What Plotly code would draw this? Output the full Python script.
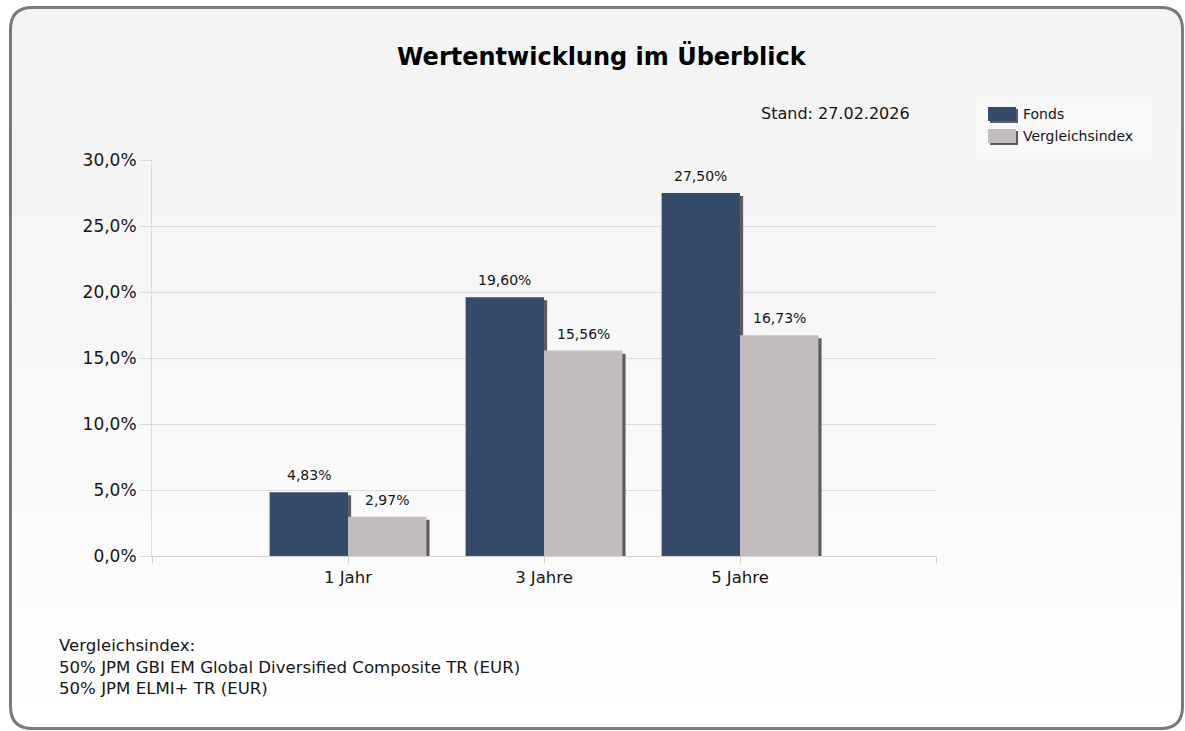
import plotly.graph_objects as go

# --- data -------------------------------------------------------------
periods = ["1 Jahr", "3 Jahre", "5 Jahre"]
fonds = [4.83, 19.60, 27.50]
vergleichsindex = [2.97, 15.56, 16.73]
series_names = ["Fonds", "Vergleichsindex"]
y_ticks = [0, 5, 10, 15, 20, 25, 30]
title_text = "Wertentwicklung im Überblick"
stand_text = "Stand: 27.02.2026"
footer_lines = [
    "Vergleichsindex:",
    "50% JPM GBI EM Global Diversified Composite TR (EUR)",
    "50% JPM ELMI+ TR (EUR)",
]

# --- styling ----------------------------------------------------------
W, H = 1185, 731
FONT = "DejaVu Sans"
TEXT = "#161616"
C_FONDS = "#364a6b"
C_INDEX = "#c3bcbc"
C_SHADOW = "#5c5c5c"
GRID = "#dcdcdc"


def px(x):
    return x / W


def py(y):
    return 1 - y / H


def pct(v, digits):
    return f"{v:.{digits}f}%".replace(".", ",")


x_pos = [i + 1 for i in range(len(periods))]
bar_w = 0.4
shadow_dx = 0.016   # a few pixels to the right
shadow_dy = 0.23    # a few pixels down (in %)

fig = go.Figure()

for name, vals, color, off in [
    (series_names[0], fonds, C_FONDS, -bar_w),
    (series_names[1], vergleichsindex, C_INDEX, 0.0),
]:
    # drop shadow behind each bar
    fig.add_trace(go.Bar(
        x=x_pos, y=vals, base=[-shadow_dy] * len(vals),
        width=bar_w, offset=off + shadow_dx,
        marker=dict(color=C_SHADOW, line=dict(width=0)),
        hoverinfo="skip", showlegend=False,
    ))
    fig.add_trace(go.Bar(
        x=x_pos, y=vals, name=name,
        width=bar_w, offset=off,
        marker=dict(color=color, line=dict(width=0)),
        showlegend=False,
    ))
    # value labels above bars
    for xv, v in zip(x_pos, vals):
        fig.add_annotation(
            x=xv + off + bar_w / 2, y=v, xref="x", yref="y",
            text=pct(v, 2),
            showarrow=False, yanchor="bottom", yshift=7,
            font=dict(family=FONT, size=14, color=TEXT),
        )

# --- background: rounded frame with soft vertical gradient -------------
shapes = []
top, bottom, left, right, r = 7.5, 728.5, 10.5, 1182.5, 22
n_bands = 24
band_h = (bottom - top) / n_bands
for i in range(n_bands):
    t = i / (n_bands - 1)
    g = int(round(244 + 11 * t ** 1.6))
    col = f"rgb({g},{g},{g})"
    y0 = top + i * band_h
    y1 = y0 + band_h + 1
    if i == 0:
        path = (f"M {px(left)},{py(y1)} L {px(left)},{py(top + r)} "
                f"Q {px(left)},{py(top)} {px(left + r)},{py(top)} "
                f"L {px(right - r)},{py(top)} "
                f"Q {px(right)},{py(top)} {px(right)},{py(top + r)} "
                f"L {px(right)},{py(y1)} Z")
        shapes.append(dict(type="path", xref="paper", yref="paper", path=path,
                           fillcolor=col, line=dict(width=0), layer="below"))
    else:
        shapes.append(dict(type="rect", xref="paper", yref="paper",
                           x0=px(left), x1=px(right), y0=py(y0), y1=py(min(y1, bottom)),
                           fillcolor=col, line=dict(width=0), layer="below"))

frame = (f"M {px(left)},{py(top + r)} "
         f"Q {px(left)},{py(top)} {px(left + r)},{py(top)} "
         f"L {px(right - r)},{py(top)} "
         f"Q {px(right)},{py(top)} {px(right)},{py(top + r)} "
         f"L {px(right)},{py(bottom - r)} "
         f"Q {px(right)},{py(bottom)} {px(right - r)},{py(bottom)} "
         f"L {px(left + r)},{py(bottom)} "
         f"Q {px(left)},{py(bottom)} {px(left)},{py(bottom - r)} Z")
shapes.append(dict(type="path", xref="paper", yref="paper", path=frame,
                   line=dict(color="#7a7a7a", width=3), layer="above"))

# --- legend (drawn by hand: wide swatches with shadow) -----------------
shapes.append(dict(type="rect", xref="paper", yref="paper",
                   x0=px(976), x1=px(1152), y0=py(153), y1=py(97),
                   fillcolor="#f8f8f8", line=dict(width=0), layer="below"))
legend_rows = [(series_names[0], C_FONDS, 114), (series_names[1], C_INDEX, 136)]
for name, color, yc in legend_rows:
    shapes.append(dict(type="rect", xref="paper", yref="paper",
                       x0=px(990), x1=px(1018), y0=py(yc + 9), y1=py(yc - 5),
                       fillcolor=C_SHADOW, line=dict(width=0)))
    shapes.append(dict(type="rect", xref="paper", yref="paper",
                       x0=px(988), x1=px(1016), y0=py(yc + 7), y1=py(yc - 7),
                       fillcolor=color, line=dict(width=0)))
    fig.add_annotation(x=px(1021), y=py(yc), xref="paper", yref="paper",
                       text=name, showarrow=False, xanchor="left", yanchor="middle",
                       font=dict(family=FONT, size=14, color=TEXT))

# --- titles and notes --------------------------------------------------
fig.add_annotation(x=px(602), y=py(56), xref="paper", yref="paper",
                   text=f"<b>{title_text}</b>", showarrow=False,
                   xanchor="center", yanchor="middle",
                   font=dict(family=FONT, size=24, color="#000000"))
fig.add_annotation(x=px(912), y=py(114), xref="paper", yref="paper",
                   text=stand_text, showarrow=False,
                   xanchor="right", yanchor="middle",
                   font=dict(family=FONT, size=16, color=TEXT))
fig.add_annotation(x=px(57), y=py(634), xref="paper", yref="paper",
                   text="<br>".join(footer_lines), showarrow=False,
                   xanchor="left", yanchor="top", align="left",
                   font=dict(family=FONT, size=16.6, color=TEXT))

fig.update_layout(
    width=W, height=H,
    autosize=False,
    margin=dict(l=0, r=0, t=0, b=0, pad=0, autoexpand=False),
    paper_bgcolor="#ffffff",
    plot_bgcolor="#f4f4f4",
    barmode="overlay",
    showlegend=False,
    shapes=shapes,
    font=dict(family=FONT, color=TEXT),
    xaxis=dict(
        domain=[px(152), px(936)], range=[0, len(periods) + 1],
        tickmode="array",
        tickvals=[0] + x_pos + [len(periods) + 1],
        ticktext=[""] + periods + [""],
        showgrid=False, zeroline=False, automargin=False,
        showline=True, linecolor="#cfcfcf", linewidth=1,
        ticks="outside", ticklen=6, tickcolor="#cfcfcf",
        tickfont=dict(family=FONT, size=16.5, color=TEXT),
        fixedrange=True,
    ),
    yaxis=dict(
        domain=[py(556), py(160)], range=[0, 30],
        tickmode="array",
        tickvals=y_ticks, ticktext=[pct(v, 1) for v in y_ticks],
        showgrid=True, gridcolor=GRID, gridwidth=1,
        zeroline=False, automargin=False,
        showline=True, linecolor="#dcdcdc", linewidth=1,
        ticks="outside", ticklen=11, tickcolor=GRID,
        tickfont=dict(family=FONT, size=17, color=TEXT),
        fixedrange=True,
    ),
)

fig.write_html("out.html")
